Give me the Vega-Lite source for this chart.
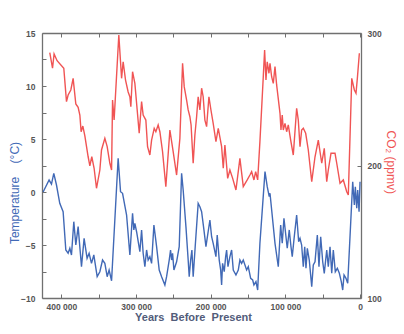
{
  "$schema": "https://vega.github.io/schema/vega-lite/v6.json",
  "width": 319,
  "height": 265,
  "autosize": "none",
  "padding": {"left": 42, "top": 33, "right": 43, "bottom": 36},
  "background": "white",
  "config": {
    "view": {"stroke": null},
    "axis": {
      "grid": false,
      "domainColor": "#707070",
      "domainWidth": 1.3,
      "tickColor": "#707070",
      "tickWidth": 1,
      "tickSize": -4,
      "labelFont": "Liberation Sans",
      "labelFontWeight": "bold",
      "labelFontSize": 8.5,
      "labelColor": "#555555",
      "labelOverlap": false,
      "labelFlush": false,
      "titleFont": "Liberation Sans"
    }
  },
  "datasets": {
    "temp": [
      {"years":424500,"temperature":0.0},{"years":416500,"temperature":1.13},{"years":413300,"temperature":0.75},{"years":410200,"temperature":1.76},{"years":406600,"temperature":0.66},{"years":402200,"temperature":-1.07},{"years":397700,"temperature":-1.86},{"years":394100,"temperature":-5.47},{"years":391000,"temperature":-5.78},{"years":388700,"temperature":-5.31},{"years":386500,"temperature":-5.94},{"years":383400,"temperature":-2.8},{"years":380700,"temperature":-5.0},{"years":377600,"temperature":-3.27},{"years":373100,"temperature":-7.05},{"years":369600,"temperature":-4.37},{"years":365600,"temperature":-6.25},{"years":362900,"temperature":-5.78},{"years":359700,"temperature":-6.73},{"years":356600,"temperature":-5.94},{"years":352100,"temperature":-7.99},{"years":348500,"temperature":-7.52},{"years":344900,"temperature":-6.42},{"years":341800,"temperature":-6.73},{"years":338700,"temperature":-7.99},{"years":336100,"temperature":-7.36},{"years":332800,"temperature":-8.37},{"years":324000,"temperature":3.18},{"years":320800,"temperature":0.03},{"years":318100,"temperature":-0.12},{"years":312700,"temperature":-2.17},{"years":308300,"temperature":-5.94},{"years":304700,"temperature":-2.0},{"years":303000,"temperature":-3.58},{"years":301600,"temperature":-2.95},{"years":299300,"temperature":-3.75},{"years":294900,"temperature":-5.63},{"years":292600,"temperature":-3.58},{"years":290500,"temperature":-5.78},{"years":288200,"temperature":-7.05},{"years":285900,"temperature":-5.47},{"years":283800,"temperature":-6.42},{"years":281500,"temperature":-6.1},{"years":279200,"temperature":-6.73},{"years":276100,"temperature":-3.11},{"years":272500,"temperature":-5.16},{"years":269000,"temperature":-7.36},{"years":265800,"temperature":-7.99},{"years":261400,"temperature":-8.77},{"years":259100,"temperature":-7.99},{"years":255600,"temperature":-6.42},{"years":253800,"temperature":-5.47},{"years":252400,"temperature":-6.42},{"years":251100,"temperature":-5.78},{"years":249300,"temperature":-7.36},{"years":245700,"temperature":-6.58},{"years":242200,"temperature":-5.16},{"years":239000,"temperature":1.76},{"years":236900,"temperature":0.19},{"years":233200,"temperature":-3.27},{"years":230200,"temperature":-6.42},{"years":228800,"temperature":-7.99},{"years":226900,"temperature":-6.42},{"years":225200,"temperature":-5.47},{"years":223500,"temperature":-7.99},{"years":220800,"temperature":-5.16},{"years":216800,"temperature":-1.07},{"years":214500,"temperature":-1.39},{"years":212200,"temperature":-1.86},{"years":209100,"temperature":-3.58},{"years":206400,"temperature":-5.16},{"years":201100,"temperature":-2.64},{"years":198800,"temperature":-4.22},{"years":196700,"temperature":-4.84},{"years":193000,"temperature":-6.1},{"years":191300,"temperature":-4.06},{"years":188600,"temperature":-6.42},{"years":186700,"temperature":-7.36},{"years":185400,"temperature":-8.77},{"years":184100,"temperature":-6.73},{"years":181900,"temperature":-7.52},{"years":180000,"temperature":-6.1},{"years":178700,"temperature":-5.47},{"years":176900,"temperature":-7.05},{"years":174300,"temperature":-6.1},{"years":172000,"temperature":-5.47},{"years":169800,"temperature":-7.36},{"years":166200,"temperature":-7.83},{"years":163100,"temperature":-7.36},{"years":160900,"temperature":-6.42},{"years":158600,"temperature":-6.73},{"years":156400,"temperature":-6.42},{"years":151900,"temperature":-7.36},{"years":149700,"temperature":-7.05},{"years":146500,"temperature":-8.14},{"years":143800,"temperature":-8.3},{"years":142100,"temperature":-8.77},{"years":139400,"temperature":-8.46},{"years":137100,"temperature":-9.25},{"years":134100,"temperature":-4.84},{"years":127300,"temperature":1.92},{"years":124300,"temperature":0.5},{"years":121600,"temperature":-0.44},{"years":120600,"temperature":-0.12},{"years":119700,"temperature":-0.75},{"years":113900,"temperature":-4.84},{"years":109500,"temperature":-7.05},{"years":106300,"temperature":-3.11},{"years":104200,"temperature":-4.84},{"years":101900,"temperature":-2.48},{"years":99200,"temperature":-4.22},{"years":97500,"temperature":-5.31},{"years":94800,"temperature":-3.58},{"years":92500,"temperature":-5.16},{"years":90800,"temperature":-6.1},{"years":88100,"temperature":-4.22},{"years":84900,"temperature":-2.17},{"years":82200,"temperature":-4.69},{"years":80400,"temperature":-4.37},{"years":78200,"temperature":-5.0},{"years":76000,"temperature":-7.05},{"years":74100,"temperature":-5.16},{"years":72400,"temperature":-7.2},{"years":70600,"temperature":-5.31},{"years":68000,"temperature":-6.42},{"years":64700,"temperature":-8.93},{"years":62600,"temperature":-6.89},{"years":60300,"temperature":-6.58},{"years":57200,"temperature":-4.06},{"years":55000,"temperature":-7.05},{"years":52700,"temperature":-4.22},{"years":50000,"temperature":-6.58},{"years":47900,"temperature":-7.67},{"years":44600,"temperature":-5.47},{"years":42500,"temperature":-7.05},{"years":40200,"temperature":-5.16},{"years":37900,"temperature":-7.67},{"years":35800,"temperature":-5.47},{"years":33100,"temperature":-7.52},{"years":30400,"temperature":-7.2},{"years":27700,"temperature":-7.67},{"years":25100,"temperature":-8.46},{"years":23200,"temperature":-9.25},{"years":21400,"temperature":-7.83},{"years":18800,"temperature":-8.14},{"years":16500,"temperature":-8.61},{"years":9800,"temperature":0.97},{"years":7600,"temperature":-1.23},{"years":6300,"temperature":0.5},{"years":4400,"temperature":-1.54},{"years":3100,"temperature":0.19},{"years":1300,"temperature":-1.86},{"years":0,"temperature":0.97}
    ],
    "co2": [
      {"years":415600,"co2":285.1},{"years":411900,"co2":273.4},{"years":409800,"co2":284.2},{"years":405800,"co2":279.1},{"years":396800,"co2":273.4},{"years":393200,"co2":248.2},{"years":391000,"co2":253.2},{"years":387400,"co2":257.0},{"years":384300,"co2":265.8},{"years":380700,"co2":246.4},{"years":377600,"co2":243.9},{"years":375300,"co2":238.1},{"years":373600,"co2":225.5},{"years":371300,"co2":229.8},{"years":368600,"co2":222.3},{"years":364200,"co2":206.6},{"years":361900,"co2":199.8},{"years":359300,"co2":206.6},{"years":356200,"co2":197.9},{"years":353000,"co2":182.8},{"years":348500,"co2":196.6},{"years":346300,"co2":211.7},{"years":341800,"co2":220.5},{"years":338700,"co2":214.2},{"years":335100,"co2":201.7},{"years":332800,"co2":196.6},{"years":331500,"co2":249.4},{"years":329400,"co2":234.3},{"years":323100,"co2":298.5},{"years":319400,"co2":265.8},{"years":317300,"co2":278.3},{"years":314100,"co2":264.5},{"years":310600,"co2":255.5},{"years":308300,"co2":251.9},{"years":307000,"co2":244.4},{"years":304700,"co2":270.8},{"years":301600,"co2":262.0},{"years":298500,"co2":241.9},{"years":295800,"co2":224.3},{"years":292600,"co2":248.2},{"years":290500,"co2":238.1},{"years":286900,"co2":234.3},{"years":284600,"co2":214.2},{"years":281500,"co2":207.9},{"years":279200,"co2":219.2},{"years":275700,"co2":228.1},{"years":273500,"co2":225.5},{"years":270400,"co2":230.6},{"years":268100,"co2":225.5},{"years":264500,"co2":210.4},{"years":260100,"co2":184.0},{"years":254700,"co2":226.8},{"years":250300,"co2":210.4},{"years":245700,"co2":192.8},{"years":241300,"co2":220.5},{"years":237700,"co2":277.1},{"years":235500,"co2":259.5},{"years":232300,"co2":249.4},{"years":230200,"co2":241.9},{"years":227900,"co2":236.8},{"years":226300,"co2":230.6},{"years":223500,"co2":201.7},{"years":221200,"co2":223.0},{"years":218900,"co2":236.8},{"years":216800,"co2":251.9},{"years":214500,"co2":241.9},{"years":212200,"co2":258.3},{"years":210100,"co2":251.9},{"years":207800,"co2":234.3},{"years":205500,"co2":229.3},{"years":202400,"co2":251.9},{"years":199700,"co2":241.9},{"years":196700,"co2":231.8},{"years":193000,"co2":218.0},{"years":189900,"co2":228.1},{"years":185400,"co2":214.2},{"years":183200,"co2":197.9},{"years":181000,"co2":215.5},{"years":177300,"co2":190.3},{"years":174300,"co2":196.6},{"years":170600,"co2":190.3},{"years":166200,"co2":181.5},{"years":160900,"co2":205.4},{"years":156400,"co2":184.0},{"years":151100,"co2":189.1},{"years":147500,"co2":192.8},{"years":145200,"co2":195.3},{"years":142100,"co2":189.1},{"years":139800,"co2":195.3},{"years":137100,"co2":189.1},{"years":134100,"co2":218.0},{"years":129600,"co2":267.0},{"years":127800,"co2":287.2},{"years":126000,"co2":264.5},{"years":124300,"co2":278.3},{"years":122000,"co2":269.6},{"years":120600,"co2":277.1},{"years":118400,"co2":267.0},{"years":116200,"co2":262.0},{"years":113900,"co2":274.6},{"years":111700,"co2":260.8},{"years":107200,"co2":239.4},{"years":105900,"co2":226.8},{"years":104200,"co2":238.1},{"years":102800,"co2":226.8},{"years":100500,"co2":231.8},{"years":98300,"co2":225.5},{"years":96100,"co2":230.6},{"years":92900,"co2":219.2},{"years":89400,"co2":207.9},{"years":84900,"co2":243.2},{"years":82700,"co2":234.3},{"years":80400,"co2":214.2},{"years":78200,"co2":226.8},{"years":76000,"co2":228.1},{"years":72800,"co2":224.3},{"years":69300,"co2":211.7},{"years":64700,"co2":187.8},{"years":60300,"co2":206.6},{"years":55900,"co2":219.2},{"years":51300,"co2":201.7},{"years":47900,"co2":213.0},{"years":44600,"co2":187.8},{"years":42500,"co2":196.6},{"years":38900,"co2":209.2},{"years":33500,"co2":209.2},{"years":31200,"co2":201.7},{"years":26800,"co2":186.6},{"years":22400,"co2":189.1},{"years":17800,"co2":180.2},{"years":15700,"co2":177.7},{"years":11100,"co2":265.8},{"years":7600,"co2":257.0},{"years":5400,"co2":254.5},{"years":3600,"co2":265.8},{"years":900,"co2":284.7}
    ]
  },
  "layer": [
    {
      "data": {"name": "co2"},
      "mark": {"type": "line", "color": "#f05454", "strokeWidth": 1.4},
      "encoding": {
        "x": {
          "field": "years", "type": "quantitative",
          "scale": {"domain": [426000, -1300], "nice": false, "zero": false},
          "axis": {"orient": "top", "values": [0,50000,100000,150000,200000,250000,300000,350000,400000], "labels": false, "title": null}
        },
        "y": {
          "field": "co2", "type": "quantitative",
          "scale": {"domain": [100, 300], "nice": false, "zero": false},
          "axis": {
            "orient": "right", "values": [100, 200, 300], "labelPadding": 10,
            "title": "CO₂ (ppmv)", "titleColor": "#f05454", "titleFontSize": 12, "titleFontWeight": "normal",
            "titleAngle": 90, "titleX": 29.5, "titleY": 128.7, "titleAlign": "center", "titleBaseline": "middle"
          }
        }
      }
    },
    {
      "data": {"name": "temp"},
      "mark": {"type": "line", "color": "#4169b6", "strokeWidth": 1.4},
      "encoding": {
        "x": {
          "field": "years", "type": "quantitative",
          "scale": {"domain": [426000, -1300], "nice": false, "zero": false},
          "axis": {
            "orient": "bottom", "values": [0,50000,100000,150000,200000,250000,300000,350000,400000],
            "labelExpr": "datum.value % 100000 === 0 ? replace(format(datum.value, ','), ',', ' ') : ''",
            "labelPadding": 8,
            "title": "Years\u00a0\u00a0Before\u00a0\u00a0Present", "titleColor": "#525c7a", "titleFontSize": 11, "titleFontWeight": "bold",
            "titleX": 151, "titleY": 22.5, "titleAlign": "center", "titleBaseline": "alphabetic"
          }
        },
        "y": {
          "field": "temperature", "type": "quantitative",
          "scale": {"domain": [-10, 15], "nice": false, "zero": false},
          "axis": {
            "orient": "left", "values": [-10,-7.5,-5,-2.5,0,2.5,5,7.5,10,12.5,15],
            "labelExpr": "datum.value % 5 === 0 ? datum.label : ''",
            "labelPadding": 11,
            "title": "Temperature\u00a0\u00a0\u00a0\u00a0(°C)", "titleColor": "#4169b6", "titleFontSize": 12, "titleFontWeight": "normal",
            "titleAngle": -90, "titleX": -28, "titleY": 159.5, "titleAlign": "center", "titleBaseline": "middle"
          }
        }
      }
    }
  ],
  "resolve": {"scale": {"y": "independent"}, "axis": {"x": "independent", "y": "independent"}}
}
